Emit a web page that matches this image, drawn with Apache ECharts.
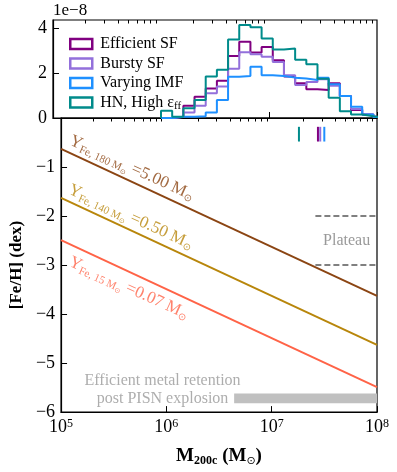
<!DOCTYPE html>
<html><head><meta charset="utf-8">
<script src="https://cdn.jsdelivr.net/npm/echarts@6/dist/echarts.min.js"></script>
<style>html,body{margin:0;padding:0;background:#fff}#c{width:397px;height:472px}</style>
</head><body><div id="c"></div>
<script>
// ---------------- data ----------------
const binEdgesLogM = [6.0, 6.1035, 6.207, 6.3105, 6.414, 6.5175, 6.621, 6.7245, 6.828, 6.9315, 7.035,
                      7.1385, 7.242, 7.3455, 7.449, 7.5525, 7.656, 7.7595, 7.863, 7.9665, 8.07];
const seriesNames = ['Efficient SF', 'Bursty SF', 'Varying IMF', 'HN, High εff'];
const efficientSF = [0, 0.06, 0.55, 0.95, 1.32, 1.66, 2.76, 3.40, 2.92, 3.17, 2.58, 1.85, 1.55, 1.28, 1.25, 1.55, 0.98, 0.36, 0.16, 0.06];
const burstySF    = [0, 0.04, 0.25, 0.55, 1.10, 1.40, 2.20, 2.93, 2.84, 2.73, 2.50, 1.91, 1.47, 1.61, 1.73, 1.44, 0.98, 0.40, 0.16, 0.05];
const varyingIMF  = [0, 0.06, 0.06, 0.08, 0.25, 0.80, 1.84, 1.87, 2.28, 1.91, 1.87, 1.80, 1.76, 1.69, 1.79, 1.50, 0.98, 0.50, 0.16, 0.05];
const hnHighEff   = [0.32, 0.06, 0.43, 0.80, 1.85, 2.15, 3.50, 4.15, 4.05, 3.55, 3.05, 3.10, 2.60, 2.40, 1.75, 0.90, 0.30, 0.16, 0.08, 0.03];
const histTicks = [0, 2, 4];
const histMax = 4.37;
const medianMass = [2.75e7, 2.89e7, 3.16e7, 1.815e7]; // same order as seriesNames
const markerFeH = [-0.18, -0.48];

const lineMass = [1e5, 1e8];
const feh180 = [-0.63, -3.63];
const feh140 = [-1.63, -4.63];
const feh15  = [-2.49, -5.49];
const plateauFeH = [-2, -3];
const plateauMass = [2.6e7, 1e8];
const bandMass = [4.4e6, 1e8];
const bandFeH = [-5.62, -5.82];

const xMajorTicks = [1e5, 1e6, 1e7, 1e8];
const xMinorTicks = [2e5,3e5,4e5,5e5,6e5,7e5,8e5,9e5, 2e6,3e6,4e6,5e6,6e6,7e6,8e6,9e6, 2e7,3e7,4e7,5e7,6e7,7e7,8e7,9e7];
const fehTicks = [-6, -5, -4, -3, -2, -1];
const fehTicksAll = [-6, -5, -4, -3, -2, -1, 0];

// ---------------- styles ----------------
const FONT = "'Liberation Serif', 'DejaVu Serif', serif";
const colors = ['#800080', '#9370DB', '#1E90FF', '#008B8B'];
const cBrown = '#8B4513', cGold = '#B8860B', cRed = '#FF6347';

function stepPoints(vals) {
  const pts = [[Math.pow(10, binEdgesLogM[0]), 0]];
  vals.forEach((v, i) => {
    pts.push([Math.pow(10, binEdgesLogM[i]), v]);
    pts.push([Math.pow(10, binEdgesLogM[i + 1]), v]);
  });
  pts.push([Math.pow(10, binEdgesLogM[vals.length]), 0]);
  return pts;
}
const histData = [efficientSF, burstySF, varyingIMF, hnHighEff];

const chart = echarts.init(document.getElementById('c'), null, {renderer: 'canvas'});

const L = 53, R = 20;
const grids = [
  {left: L, right: R, top: 20, height: 98, show: true, borderColor: '#000', borderWidth: 1.2, backgroundColor: 'transparent'},
  {left: L, right: R, top: 118, height: 296.5, show: true, borderColor: '#000', borderWidth: 1.2, backgroundColor: 'transparent'}
];

function xAx(gridIndex, ticks, len, withLine, withLabels) {
  return {
    type: 'log', logBase: 10, gridIndex, min: 1e5, max: 1e8,
    axisLine: {show: withLine, onZero: false, lineStyle: {color: '#000', width: 1.2}},
    axisTick: {show: true, inside: true, length: len, customValues: ticks, lineStyle: {color: '#000', width: 1}},
    axisLabel: withLabels ? {
      show: true, customValues: xMajorTicks, margin: 6,
      formatter: v => '{b|10}{e|' + Math.round(Math.log10(v)) + '}',
      rich: {
        b: {fontFamily: FONT, fontSize: 18, color: '#000', lineHeight: 18, verticalAlign: 'bottom'},
        e: {fontFamily: FONT, fontSize: 12, color: '#000', lineHeight: 12, padding: [0, 0, 12, 0], verticalAlign: 'top'}
      }
    } : {show: false},
    splitLine: {show: false}, minorTick: {show: false}
  };
}

const xAxes = [
  xAx(0, xMajorTicks, 6, true, false),
  xAx(0, xMinorTicks, 3.5, false, false),
  Object.assign(xAx(1, xMajorTicks, 6, true, true), {
    name: '{m|M}{s|200c}{m| (M}{s2|⊙}{m|)}', nameLocation: 'middle', nameGap: 31,
    nameTextStyle: {rich: {
      m: {fontFamily: FONT, fontSize: 19, fontWeight: 'bold', color: '#000'},
      s: {fontFamily: FONT, fontSize: 12, fontWeight: 'bold', color: '#000', padding: [9, 0, 0, 0]},
      s2: {fontFamily: "'DejaVu Sans', sans-serif", fontSize: 11, color: '#000', padding: [9, 0, 0, 0]}
    }}
  }),
  xAx(1, xMinorTicks, 3.5, false, false)
];

const yAxes = [
  {
    type: 'value', gridIndex: 0, min: 0, max: histMax,
    axisLine: {show: true, lineStyle: {color: '#000', width: 1.2}},
    axisTick: {show: true, inside: true, length: 6, customValues: histTicks, lineStyle: {color: '#000'}},
    axisLabel: {show: true, customValues: histTicks, margin: 6, fontFamily: FONT, fontSize: 18, color: '#000'},
    splitLine: {show: false},
    name: '1e−8', nameLocation: 'end', nameGap: 1,
    nameTextStyle: {fontFamily: FONT, fontSize: 17, color: '#000', align: 'left', verticalAlign: 'bottom'}
  },
  {
    type: 'value', gridIndex: 1, min: -6, max: 0, interval: 1,
    axisLine: {show: true, onZero: false, lineStyle: {color: '#000', width: 1.2}},
    axisTick: {show: true, inside: true, length: 6, customValues: fehTicksAll, lineStyle: {color: '#000'}},
    axisLabel: {show: true, customValues: fehTicks, margin: 6, fontFamily: FONT, fontSize: 18, color: '#000',
      formatter: v => (v < 0 ? '−' + (-v) : '' + v)},
    splitLine: {show: false},
    name: '[Fe/H] (dex)', nameLocation: 'middle', nameGap: 28,
    nameTextStyle: {fontFamily: FONT, fontSize: 17, fontWeight: 'bold', color: '#000'}
  }
];

const series = [];
// histograms
histData.forEach((vals, k) => {
  series.push({
    name: seriesNames[k], type: 'line', xAxisIndex: 0, yAxisIndex: 0,
    data: stepPoints(vals), showSymbol: false, symbol: 'none', clip: true,
    lineStyle: {color: colors[k], width: 2}, itemStyle: {color: colors[k]}, z: 2 + k
  });
});
// median markers
medianMass.forEach((m, k) => {
  series.push({
    type: 'line', xAxisIndex: 2, yAxisIndex: 1, showSymbol: false, symbol: 'none',
    data: [[m, markerFeH[0]], [m, markerFeH[1]]],
    lineStyle: {color: colors[k], width: 2}, z: 3
  });
});
// yield lines
[[feh180, cBrown], [feh140, cGold], [feh15, cRed]].forEach(([ys, c]) => {
  series.push({
    type: 'line', xAxisIndex: 2, yAxisIndex: 1, showSymbol: false, symbol: 'none',
    data: lineMass.map((m, i) => [m, ys[i]]),
    lineStyle: {color: c, width: 2}, z: 3
  });
});
// plateau dashed lines
plateauFeH.forEach(f => {
  series.push({
    type: 'line', xAxisIndex: 2, yAxisIndex: 1, showSymbol: false, symbol: 'none',
    data: plateauMass.map(m => [m, f]),
    lineStyle: {color: '#808080', width: 2, type: [6, 3]}, z: 3
  });
});
// retention band
series.push({
  type: 'line', xAxisIndex: 2, yAxisIndex: 1, data: [], silent: true,
  markArea: {silent: true, itemStyle: {color: '#c0c0c0'},
    data: [[{coord: [bandMass[0], bandFeH[0]]}, {coord: [bandMass[1], bandFeH[1]]}]]}
});

// text annotations
function textPoint(coord, formatter, rich, rotate, color) {
  return {
    type: 'scatter', xAxisIndex: 2, yAxisIndex: 1, symbolSize: 0, silent: true, z: 5,
    data: [coord],
    label: {show: true, position: 'inside', formatter, rotate, color, rich, align: 'center', verticalAlign: 'middle'}
  };
}
function yieldRich(c) {
  return {
    y: {fontFamily: FONT, fontSize: 17, color: c},
    s: {fontFamily: FONT, fontSize: 11, color: c, padding: [9, 0, 0, 0]},
    ss: {fontFamily: "'DejaVu Sans', sans-serif", fontSize: 7, color: c, padding: [15, 0, 0, 0]},
    m: {fontFamily: FONT, fontSize: 17, color: c},
    ms: {fontFamily: "'DejaVu Sans', sans-serif", fontSize: 10, color: c, padding: [9, 0, 0, 0]}
  };
}
const ang = -24.6;
series.push(textPoint([4.7e5, -1.02], '{y|Y}{s|Fe, 180 M}{ss|⊙}{m| =5.00 M}{ms|⊙}', yieldRich(cBrown), ang, cBrown));
series.push(textPoint([4.6e5, -2.02], '{y|Y}{s|Fe, 140 M}{ss|⊙}{m| =0.50 M}{ms|⊙}', yieldRich(cGold), ang, cGold));
series.push(textPoint([4.4e5, -3.47], '{y|Y}{s|Fe, 15 M}{ss|⊙}{m| =0.07 M}{ms|⊙}', yieldRich(cRed), ang, cRed));
const plateauLabel = textPoint([5.15e7, -2.5], 'Plateau', null, 0, '#808080');
Object.assign(plateauLabel.label, {fontFamily: FONT, fontSize: 16});
series.push(plateauLabel);
const bandLabel = textPoint([9.2e5, -5.54], 'Efficient metal retention\npost PISN explosion', null, 0, '#999999');
Object.assign(bandLabel.label, {fontFamily: FONT, fontSize: 16, lineHeight: 18});
series.push(bandLabel);

const option = {
  animation: false,
  backgroundColor: '#fff',
  grid: grids,
  xAxis: xAxes,
  yAxis: yAxes,
  legend: {
    show: true, orient: 'vertical', left: 64, top: 31, itemWidth: 22, itemHeight: 10, itemGap: 3.5,
    selectedMode: false, icon: 'rect',
    data: seriesNames.map((n, k) => ({
      name: n, icon: 'rect',
      itemStyle: {color: 'rgba(255,255,255,0)', borderColor: colors[k], borderWidth: 2.5}
    })),
    formatter: n => n === 'HN, High εff' ? '{a|HN, High ε}{s|ff}' : '{a|' + n + '}',
    textStyle: {padding: [0, 0, 0, 3], rich: {
      a: {fontFamily: FONT, fontSize: 16, color: '#000'},
      s: {fontFamily: FONT, fontSize: 11, color: '#000', padding: [8, 0, 0, 0]}
    }}
  },
  series
};
chart.setOption(option);
</script></body></html>
